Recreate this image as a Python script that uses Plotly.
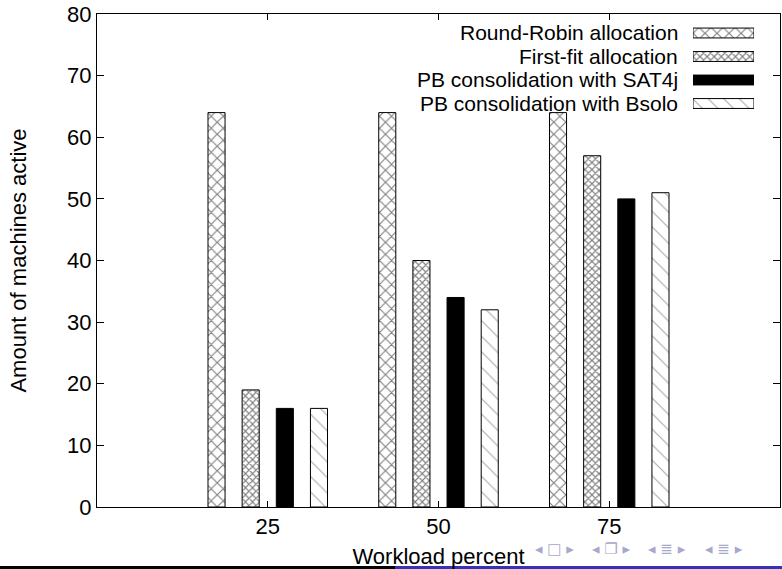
import plotly.graph_objects as go

categories = ["25", "50", "75"]
series_names = [
    "Round-Robin allocation",
    "First-fit allocation",
    "PB consolidation with SAT4j",
    "PB consolidation with Bsolo",
]
round_robin = [64, 64, 64]
first_fit = [19, 40, 57]
sat4j = [16, 34, 50]
bsolo = [16, 32, 51]
y_ticks = [0, 10, 20, 30, 40, 50, 60, 70, 80]

series_values = [round_robin, first_fit, sat4j, bsolo]
patterns = [
    dict(shape="x", size=8.5, solidity=0.25, fgcolor="black", bgcolor="white", fillmode="overlay"),
    dict(shape="x", size=5, solidity=0.4, fgcolor="black", bgcolor="white", fillmode="overlay"),
    None,
    dict(shape="\\", size=11, solidity=0.1, fgcolor="#555555", bgcolor="white", fillmode="overlay"),
]
colors = ["white", "white", "black", "white"]

FONT = "Liberation Sans, Arial, Helvetica, sans-serif"
FS = 22
LFS = 21
W, H = 782, 569
PL, PR, PT, PB = 97, 780, 14, 507   # plot box in pixels
ML, MR, MT, MB = PL, W - PR, PT, H - PB
PW, PH = PR - PL, PB - PT

def px_to_paper_x(px):
    return (px - PL) / PW

def px_to_paper_y(py):
    return (PB - py) / PH

fig = go.Figure()
xs = list(range(len(categories)))
n = len(series_names)
bar_w = 0.1
step = 0.2
for i, (name, vals) in enumerate(zip(series_names, series_values)):
    center = (i - (n - 1) / 2) * step
    marker = dict(color=colors[i], line=dict(color="black", width=1))
    if patterns[i] is not None:
        marker["pattern"] = patterns[i]
    fig.add_trace(go.Bar(
        x=xs, y=vals, name=name, width=bar_w, offset=center - bar_w / 2,
        marker=marker, showlegend=False,
    ))

# Legend keys drawn on an auxiliary axis (gnuplot style: text left, key right)
leg_idx = list(range(n))
for i, name in enumerate(series_names):
    marker = dict(color=colors[i], line=dict(color="black", width=1))
    if patterns[i] is not None:
        marker["pattern"] = dict(patterns[i])
    fig.add_trace(go.Bar(
        x=[1], y=[leg_idx[i]], orientation="h", width=0.42,
        marker=marker, xaxis="x2", yaxis="y2", showlegend=False,
        hoverinfo="skip",
    ))

leg_row = 23.5
leg_top_px = 33 - leg_row / 2
leg_bottom_px = leg_top_px + leg_row * n
fig.update_layout(
    width=W, height=H,
    margin=dict(l=ML, r=MR, t=MT, b=MB, autoexpand=False),
    paper_bgcolor="white", plot_bgcolor="white",
    barmode="overlay",
    showlegend=False,
    font=dict(family=FONT, size=FS, color="black"),
    xaxis=dict(
        range=[-1, 3], tickvals=xs, ticktext=categories,
        ticks="inside", ticklen=6, tickcolor="black", tickwidth=1,
        showline=True, linecolor="black", linewidth=1, mirror="ticks",
        showgrid=False, zeroline=False, automargin=False,
        ticklabeloverflow="allow",
        title=dict(text="Workload percent", standoff=22, font=dict(size=FS)),
    ),
    yaxis=dict(
        range=[0, 80], tickvals=y_ticks,
        ticks="inside", ticklen=7, tickcolor="black", tickwidth=1,
        showline=True, linecolor="black", linewidth=1, mirror="ticks",
        showgrid=False, zeroline=False, automargin=False,
        ticklabeloverflow="allow",
        title=dict(text="Amount of machines active", standoff=34, font=dict(size=FS)),
    ),
    xaxis2=dict(
        domain=[px_to_paper_x(693), px_to_paper_x(754)], range=[0, 1],
        anchor="y2", visible=False, fixedrange=True,
    ),
    yaxis2=dict(
        domain=[px_to_paper_y(leg_bottom_px), px_to_paper_y(leg_top_px)],
        range=[n - 0.5, -0.5], anchor="x2", visible=False, fixedrange=True,
    ),
)

for i, name in enumerate(series_names):
    fig.add_annotation(
        text=name, xref="paper", yref="y2", x=px_to_paper_x(680), y=leg_idx[i],
        xanchor="right", yanchor="middle", showarrow=False,
        font=dict(family=FONT, size=LFS, color="black"),
    )

# Beamer slide footer decorations
fig.add_shape(type="rect", xref="paper", yref="paper",
              x0=px_to_paper_x(0), x1=px_to_paper_x(395),
              y0=px_to_paper_y(569), y1=px_to_paper_y(566),
              fillcolor="black", line=dict(width=0), layer="above")
fig.add_shape(type="rect", xref="paper", yref="paper",
              x0=px_to_paper_x(395), x1=px_to_paper_x(782),
              y0=px_to_paper_y(569), y1=px_to_paper_y(566),
              fillcolor="#3333b3", line=dict(width=0), layer="above")
nav_groups = ["◂ □ ▸", "◂ ❐ ▸", "◂ ≣ ▸", "◂ ≣ ▸"]
nav_x = [533, 590, 646, 703]
for g, gx in zip(nav_groups, nav_x):
    fig.add_annotation(
        text=g, xref="paper", yref="paper", x=px_to_paper_x(gx), y=px_to_paper_y(549),
        xanchor="left", yanchor="middle", showarrow=False,
        font=dict(family="DejaVu Sans", size=15, color="#a8a8cc"),
    )

fig.write_html("out.html", config={"displayModeBar": False},
               post_script="document.body.style.margin='0';")
